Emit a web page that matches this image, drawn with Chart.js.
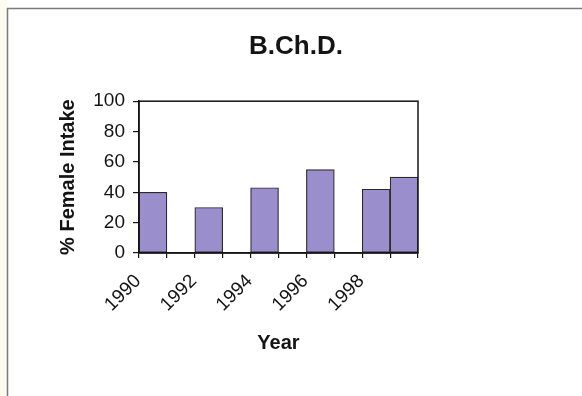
<!DOCTYPE html>
<html>
<head>
<meta charset="utf-8">
<title>B.Ch.D.</title>
<script src="https://cdn.jsdelivr.net/npm/chart.js@4"></script>
<style>
  html, body { margin: 0; padding: 0; background: #ffffff; }
  #wrap { position: relative; width: 582px; height: 396px; }
  canvas { display: block; }
</style>
</head>
<body>
<div id="wrap"><canvas id="chart" width="582" height="396"></canvas></div>
<script>
// Intake years and the share of female students admitted each year
const years = ['1990', '1991', '1992', '1993', '1994', '1995', '1996', '1997', '1998', '1999'];
const femaleIntake = [40, null, 30, null, 43, null, 55, null, 42, 50];
// Only every second year is labelled on the axis
const yearLabels = ['1990', '', '1992', '', '1994', '', '1996', '', '1998', ''];
const yTicks = [0, 20, 40, 60, 80, 100];

const FONT = '"Liberation Sans", Arial, Helvetica, sans-serif';
const INK = '#141414';

// Page frame: thin grey rule on the left and top edges
const framePlugin = {
  id: 'frame',
  beforeDraw(chart) {
    const ctx = chart.ctx;
    ctx.save();
    ctx.fillStyle = '#ffffff';
    ctx.fillRect(0, 0, chart.width, chart.height);
    ctx.fillStyle = '#fbfbef';
    ctx.fillRect(0, 0, 7, chart.height);
    ctx.strokeStyle = '#7a7a7a';
    ctx.lineWidth = 1.5;
    ctx.beginPath();
    ctx.moveTo(7.5, chart.height);
    ctx.lineTo(7.5, 8.5);
    ctx.lineTo(chart.width, 8.5);
    ctx.stroke();
    ctx.restore();
  }
};

// Closed box around the plotting area
const plotBoxPlugin = {
  id: 'plotBox',
  afterDatasetsDraw(chart) {
    const { ctx, chartArea: a } = chart;
    ctx.save();
    ctx.strokeStyle = INK;
    ctx.lineWidth = 1.5;
    ctx.strokeRect(a.left, a.top, a.right - a.left, a.bottom - a.top);
    ctx.restore();
  }
};

new Chart(document.getElementById('chart'), {
  type: 'bar',
  data: {
    labels: years,
    datasets: [{
      data: femaleIntake,
      backgroundColor: '#9a8fcc',
      borderColor: '#2a2a2a',
      borderWidth: 1.2,
      borderSkipped: false,
      categoryPercentage: 1.0,
      barPercentage: 1.0
    }]
  },
  options: {
    responsive: false,
    animation: false,
    devicePixelRatio: 1,
    layout: { padding: { left: 10, right: 0, top: 0, bottom: 0 } },
    plugins: {
      legend: { display: false },
      tooltip: { enabled: false },
      title: {
        display: true,
        text: 'B.Ch.D.',
        color: INK,
        font: { family: FONT, size: 26, weight: 'bold' },
        padding: { top: 31, bottom: 39 }
      }
    },
    scales: {
      x: {
        offset: true,
        grid: {
          offset: true,
          drawOnChartArea: false,
          drawTicks: true,
          tickLength: 5,
          color: INK,
          lineWidth: 1.2
        },
        border: { display: true, color: INK, width: 1.5 },
        ticks: {
          autoSkip: false,
          maxRotation: 45,
          minRotation: 45,
          labelOffset: -15,
          padding: 12,
          color: INK,
          font: { family: FONT, size: 19 },
          callback: (value, index) => yearLabels[index]
        },
        title: {
          display: true,
          text: 'Year',
          color: INK,
          font: { family: FONT, size: 20, weight: 'bold' },
          padding: { top: 0, bottom: 41 }
        },
        afterFit(scale) { scale.height = 143; }
      },
      y: {
        min: 0,
        max: 100,
        afterBuildTicks(scale) { scale.ticks = yTicks.map(v => ({ value: v })); },
        grid: {
          drawOnChartArea: false,
          drawTicks: true,
          tickLength: 6,
          color: INK,
          lineWidth: 1.2
        },
        border: { display: true, color: INK, width: 1.5 },
        ticks: {
          padding: 8,
          color: INK,
          font: { family: FONT, size: 19 }
        },
        title: {
          display: true,
          text: '% Female Intake',
          color: INK,
          font: { family: FONT, size: 20, weight: 'bold' },
          padding: { top: 46, bottom: 0 }
        },
        afterFit(scale) { scale.width = 129; }
      },
      // Empty right-hand margin of the chart panel
      margin: {
        type: 'linear',
        position: 'right',
        grid: { display: false },
        border: { display: false },
        ticks: { display: false },
        afterFit(scale) { scale.width = 164; }
      }
    }
  },
  plugins: [framePlugin, plotBoxPlugin]
});
</script>
</body>
</html>
